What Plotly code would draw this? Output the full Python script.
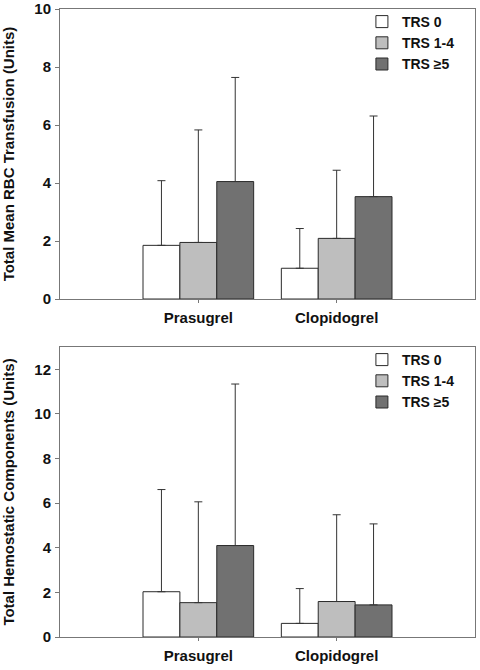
import plotly.graph_objects as go
from plotly.subplots import make_subplots

drugs = ["Prasugrel", "Clopidogrel"]
groups = ["TRS 0", "TRS 1-4", "TRS ≥5"]
colors = ["#FFFFFF", "#BEBEBE", "#717171"]

# Top panel: Total Mean RBC Transfusion (Units)
rbc_mean = {
    "TRS 0": [1.85, 1.06],
    "TRS 1-4": [1.95, 2.09],
    "TRS ≥5": [4.05, 3.53],
}
rbc_sd = {
    "TRS 0": [2.23, 1.37],
    "TRS 1-4": [3.88, 2.35],
    "TRS ≥5": [3.59, 2.78],
}

# Bottom panel: Total Hemostatic Components (Units)
hem_mean = {
    "TRS 0": [2.03, 0.61],
    "TRS 1-4": [1.54, 1.59],
    "TRS ≥5": [4.10, 1.44],
}
hem_sd = {
    "TRS 0": [4.58, 1.56],
    "TRS 1-4": [4.52, 3.89],
    "TRS ≥5": [7.24, 3.63],
}

xpos = [1, 2]

fig = make_subplots(rows=2, cols=1, vertical_spacing=0.0)

font_family = "Liberation Sans, Arial, sans-serif"

for row, (means, sds, leg) in enumerate([(rbc_mean, rbc_sd, "legend"), (hem_mean, hem_sd, "legend2")], start=1):
    for g, c in zip(groups, colors):
        fig.add_trace(
            go.Bar(
                x=xpos,
                y=means[g],
                name=g,
                marker=dict(color=c, line=dict(color="#2a2a2a", width=1)),
                error_y=dict(
                    type="data",
                    symmetric=False,
                    array=sds[g],
                    arrayminus=[0] * len(sds[g]),
                    color="#333333",
                    thickness=1,
                    width=4,
                ),
                legend=leg,
            ),
            row=row,
            col=1,
        )

axis_common = dict(
    showline=True,
    linecolor="#777777",
    linewidth=1,
    mirror=True,
    showgrid=False,
    zeroline=False,
    ticks="outside",
    tickcolor="#777777",
    tickfont=dict(family=font_family, size=15, color="#111111", weight="bold"),
)

fig.update_xaxes(
    range=[0, 3],
    tickvals=xpos,
    ticktext=drugs,
    ticklen=3,
    ticklabelstandoff=2,
    **axis_common,
)
fig.update_yaxes(ticklen=4, ticklabelstandoff=1, **axis_common)
fig.update_yaxes(
    range=[0, 10], tickvals=[0, 2, 4, 6, 8, 10], row=1, col=1,
    title=dict(text="Total Mean RBC Transfusion (Units)", standoff=20,
               font=dict(family=font_family, size=15, color="#111111", weight="bold")),
)
fig.update_yaxes(
    range=[0, 13], tickvals=[0, 2, 4, 6, 8, 10, 12], row=2, col=1,
    title=dict(text="Total Hemostatic Components (Units)", standoff=20,
               font=dict(family=font_family, size=15, color="#111111", weight="bold")),
)

H = 670
top_m, bot_m = 9, 33
ph = H - top_m - bot_m
top_lo = (637 - 299) / ph
bot_hi = (637 - 347) / ph
fig.update_layout(
    yaxis=dict(domain=[top_lo, 1.0]),
    yaxis2=dict(domain=[0.0, bot_hi]),
)

legend_common = dict(
    xanchor="left",
    yanchor="top",
    xref="paper",
    yref="container",
    bgcolor="rgba(0,0,0,0)",
    font=dict(family=font_family, size=14, color="#111111", weight="bold"),
    tracegroupgap=0,
)

fig.update_layout(
    width=480,
    height=670,
    margin=dict(l=60, r=5, t=top_m, b=bot_m, autoexpand=False),
    plot_bgcolor="white",
    paper_bgcolor="white",
    barmode="group",
    bargap=0.2,
    bargroupgap=0,
    showlegend=True,
    legend=dict(x=0.7275, y=1 - 6 / H, **legend_common),
    legend2=dict(x=0.7275, y=1 - 344 / H, **legend_common),
)

fig.write_html(
    "out.html",
    config={"displayModeBar": False},
    post_script="document.body.style.margin='0';document.body.style.overflow='hidden';",
)
